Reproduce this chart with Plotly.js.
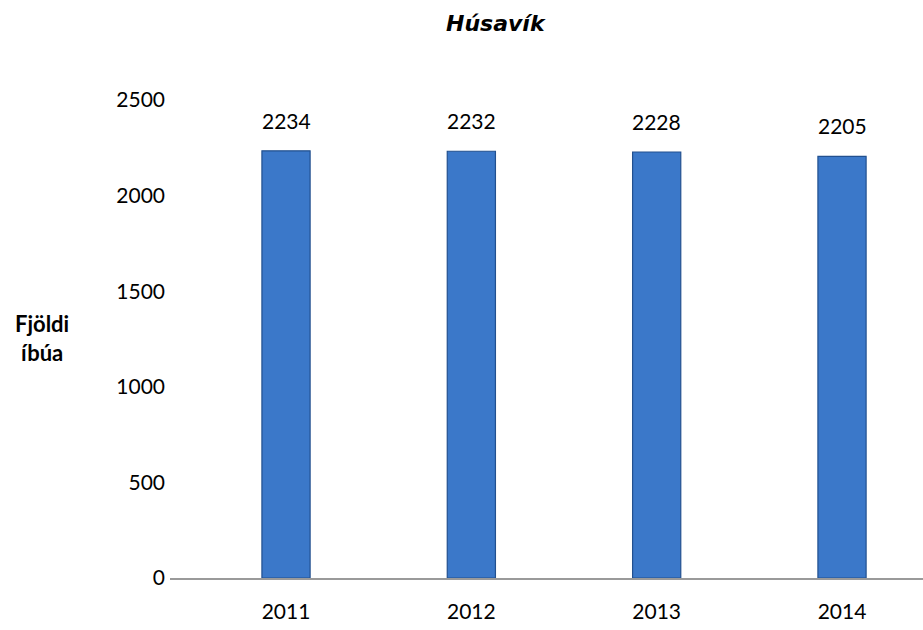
<!DOCTYPE html>
<html>
<head>
<meta charset="utf-8">
<script src="https://cdn.plot.ly/plotly-3.0.1.min.js"></script>
<style>html,body{margin:0;padding:0;background:#fff;}#chart{width:923px;height:630px;}</style>
</head>
<body>
<div id="chart"></div>
<script>
const years = ["2011", "2012", "2013", "2014"];
const residents = [2234, 2232, 2228, 2205];
const yTicks = [0, 500, 1000, 1500, 2000, 2500];
const chartTitle = "Húsavík";
const yTitleLines = ["Fjöldi", "íbúa"];

const FONT = "Lato, 'Open Sans', sans-serif";

const trace = {
  type: "bar",
  x: years.map((_, i) => i),
  y: residents,
  width: 0.26,
  marker: {color: "#3b78c9", line: {color: "#22508f", width: 1.2}},
  hoverinfo: "skip"
};

const labelAnnotations = residents.map((v, i) => ({
  x: i, y: v, xref: "x", yref: "y",
  text: String(v), showarrow: false,
  xanchor: "center", yanchor: "bottom", yshift: 16,
  font: {family: FONT, size: 21, color: "#000"}
}));

const layout = {
  width: 923, height: 630,
  margin: {l: 170, r: 0, t: 100, b: 52},
  paper_bgcolor: "#fff", plot_bgcolor: "#fff",
  showlegend: false,
  title: {text: "<b><i>" + chartTitle + "</i></b>", xref: "paper", x: 0.432, xanchor: "center",
          yref: "container", y: 0.963, yanchor: "middle",
          font: {family: "'DejaVu Sans', sans-serif", size: 22, color: "#000"}},
  xaxis: {
    range: [-0.626, 3.437],
    tickvals: years.map((_, i) => i), ticktext: years,
    showgrid: false, zeroline: false,
    showline: true, linecolor: "#9a9a9a", linewidth: 2,
    ticks: "", ticklabelstandoff: 14,
    tickfont: {family: FONT, size: 21, color: "#000"}
  },
  yaxis: {
    range: [0, 2500],
    tickvals: yTicks,
    showgrid: false, zeroline: false, showline: false,
    ticks: "", ticklabelstandoff: 4,
    tickfont: {family: FONT, size: 21, color: "#000"}
  },
  annotations: labelAnnotations.concat([{
    text: "<b>" + yTitleLines.join("<br>") + "</b>", xref: "paper", yref: "paper",
    x: -0.17, y: 0.502, xanchor: "center", yanchor: "middle", showarrow: false,
    font: {family: FONT, size: 22, color: "#000"}
  }])
};

Plotly.newPlot("chart", [trace], layout, {displayModeBar: false, staticPlot: true});
</script>
</body>
</html>
